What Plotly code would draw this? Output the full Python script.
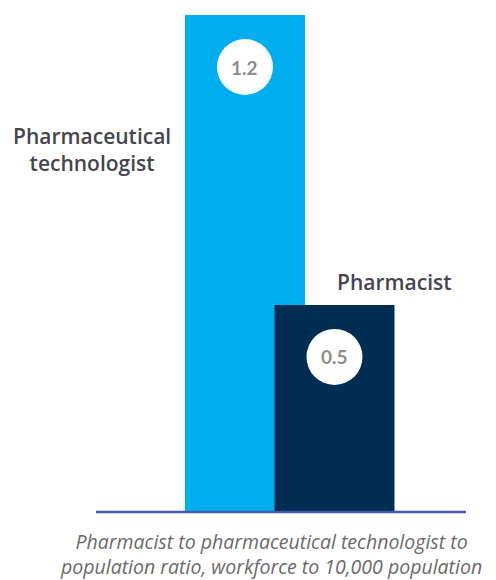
import plotly.graph_objects as go

categories = ["Pharmaceutical technologist", "Pharmacist"]
values = [1.2, 0.5]
value_labels = ["1.2", "0.5"]
bar_labels = ["Pharmaceutical<br>technologist", "Pharmacist"]
colors = ["#00AEEF", "#002D52"]
caption = "Pharmacist to pharmaceutical technologist to<br>population ratio, workforce to 10,000 population"

xpos = [0, 0.746]

fig = go.Figure()
for i in range(2):
    fig.add_trace(go.Bar(x=[xpos[i]], y=[values[i]], width=1.0,
                         marker=dict(color=colors[i], line=dict(width=0)),
                         name=categories[i], hoverinfo="skip"))

shapes = []
annotations = []
for i in range(2):
    shapes.append(dict(type="circle", xref="x", yref="y",
                       xsizemode="pixel", ysizemode="pixel",
                       xanchor=xpos[i], yanchor=values[i],
                       x0=-28, x1=28, y0=-80, y1=-24,
                       fillcolor="white", line=dict(width=0), layer="above"))
    annotations.append(dict(x=xpos[i], y=values[i], xref="x", yref="y",
                            text=value_labels[i], showarrow=False, yshift=-52,
                            font=dict(family="Lato", size=19, color="#8E8E8E", weight="bold")))

shapes.append(dict(type="line", xref="x", yref="y", x0=-1.242, x1=1.842, y0=0, y1=0,
                   line=dict(color="#4658AA", width=2.5), layer="above"))

annotations.append(dict(x=-1.275, y=0.876, xref="x", yref="y", text=bar_labels[0],
                        showarrow=False, align="center",
                        font=dict(family="Open Sans", size=21, color="#45454F", weight=600)))
annotations.append(dict(x=xpos[1] + 0.5, y=values[1], xref="x", yref="y", text=bar_labels[1],
                        showarrow=False, yshift=23,
                        font=dict(family="Open Sans", size=21, color="#45454F", weight=600)))
annotations.append(dict(x=0.539, y=1 - 546 / 572, xref="paper", yref="paper", text=caption,
                        showarrow=False, align="center", xanchor="center", yanchor="middle",
                        font=dict(family="Open Sans", size=19.5, color="#6A6A6A", style="italic")))

fig.update_layout(
    width=488, height=572,
    margin=dict(l=0, r=0, t=0, b=0),
    paper_bgcolor="white", plot_bgcolor="white",
    barmode="overlay", showlegend=False,
    xaxis=dict(range=[-1.975, 2.092], visible=False, fixedrange=True),
    yaxis=dict(range=[-0.1642, 1.2169], visible=False, fixedrange=True),
    shapes=shapes, annotations=annotations,
)
fig.write_html("out.html", config={"displayModeBar": False})
